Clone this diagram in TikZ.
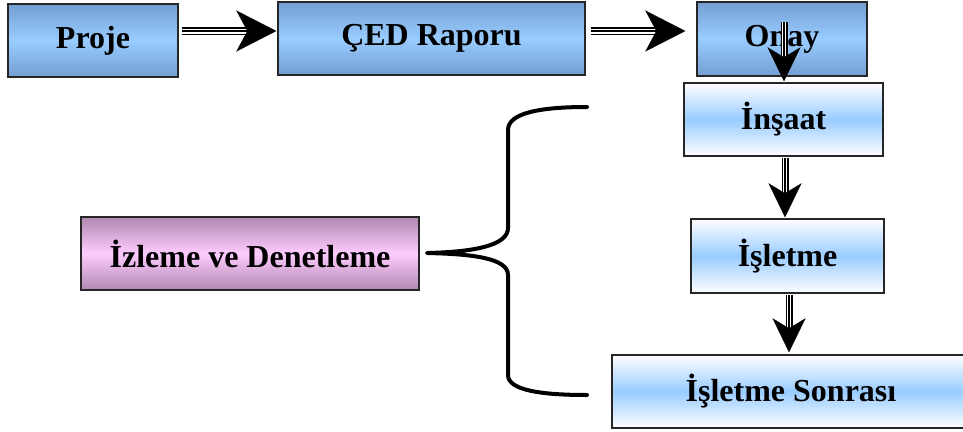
\documentclass[tikz,border=0pt]{standalone}
\usepackage{fontspec}
\setmainfont{Liberation Serif}
\usetikzlibrary{arrows.meta,calc}
\definecolor{bluedark}{RGB}{116,158,210}
\definecolor{bluelight}{RGB}{153,204,255}
\definecolor{pinkdark}{RGB}{176,136,176}
\definecolor{pinklight}{RGB}{255,204,255}
\tikzset{
  box/.style={draw=black!85, line width=1.4pt, inner sep=0pt, minimum height=73pt,
    font=\bfseries\fontsize{32}{38}\selectfont, shading=axis},
  darkbox/.style={box, top color=bluedark, bottom color=bluedark, middle color=bluelight},
  lightbox/.style={box, top color=white, bottom color=white, middle color=bluelight},
  pinkbox/.style={box, top color=pinkdark, bottom color=pinkdark, middle color=pinklight},
  trih/.style={
    preaction={draw,black,line width=8pt,shorten >=27pt},
    preaction={draw,white,line width=5pt,shorten >=27pt},
    postaction={draw,black,line width=1.7pt,shorten >=27pt},
    postaction={draw,black,line width=0.1pt,-{Stealth[length=40pt,width=41pt,inset=11pt]}}},
  triv/.style={
    preaction={draw,black,line width=7pt,shorten >=22pt},
    preaction={draw,white,line width=4.4pt,shorten >=22pt},
    postaction={draw,black,line width=1.5pt,shorten >=22pt},
    postaction={draw,black,line width=0.1pt,-{Stealth[length=34pt,width=33pt,inset=10pt]}}},
  bracestyle/.style={draw=black, line width=4pt, line cap=round, line join=round}
}
\begin{document}
\begin{tikzpicture}[x=1pt,y=-1pt]
\clip (0,0) rectangle (963,431);
\fill[white] (0,0) rectangle (963,431);
% boxes
\node[darkbox, minimum width=170pt] (proje) at (93,40.5) {Proje};
\node[darkbox, minimum width=307pt] (ced) at (431.5,38.5) {ÇED Raporu};
\node[darkbox, minimum width=170pt, minimum height=74pt] (onay) at (782,39) {Onay};
\node[lightbox, minimum width=199pt] (insaat) at (783.5,119.5) {İnşaat};
\node[lightbox, minimum width=193pt, minimum height=74pt] (isletme) at (787.5,256) {İşletme};
\node[lightbox, minimum width=358pt] (sonrasi) at (791,391.5) {İşletme Sonrası};
\node[pinkbox, minimum width=338pt] (izleme) at (250,253.5) {İzleme ve Denetleme};
% coordinates for connectors
\coordinate (a1s) at ($(proje.east)+(3,-9.5)$);
\coordinate (a1e) at ($(ced.west)+(-1,-7.5)$);
\coordinate (a2s) at ($(ced.east)+(5,-7.5)$);
\coordinate (a2e) at ($(onay.west)+(-11,-8)$);
\coordinate (a3s) at (784,22);
\coordinate (a3e) at ($(insaat.north)+(0.5,-1)$);
\coordinate (a4s) at (785,158);
\coordinate (a4e) at ($(isletme.north)+(-2.5,-1)$);
\coordinate (a5s) at (789,295);
\coordinate (a5e) at ($(sonrasi.north)+(-2,-2)$);
% arrows
\path[trih] (a1s) -- (a1e);
\path[trih] (a2s) -- (a2e);
\path[triv] (a3s) -- (a3e);
\path[triv] (a4s) -- (a4e);
\path[triv] (a5s) -- (a5e);
% brace
\coordinate (btop) at (587,107);
\coordinate (btip) at (427,253);
\coordinate (bbot) at (587,395);
\draw[bracestyle] (btop) .. controls (540,107) and (508,113) .. (508,130)
  -- (508,228) .. controls (508,246) and (472,252) .. (btip)
  .. controls (472,254) and (508,258) .. (508,275)
  -- (508,375) .. controls (508,390) and (540,395) .. (bbot);
\end{tikzpicture}
\end{document}
